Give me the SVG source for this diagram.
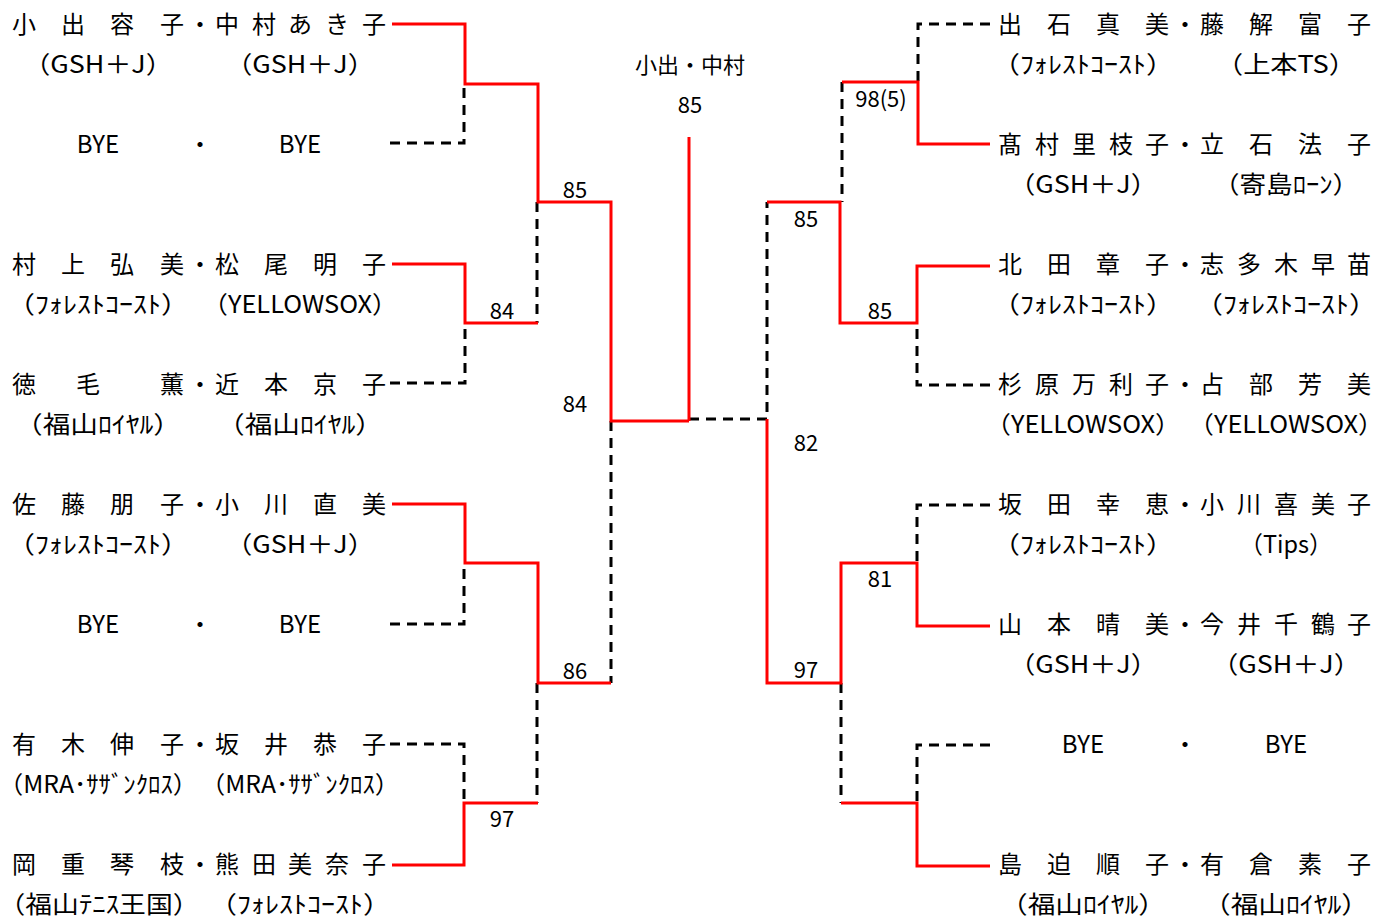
<svg xmlns="http://www.w3.org/2000/svg" width="1376" height="918" viewBox="0 0 1376 918">
<style>
.nm{font-family:"Noto Sans CJK JP","Noto Sans",sans-serif;font-size:24px;fill:#000;text-anchor:middle;dominant-baseline:central}
.sb{font-family:"Noto Sans CJK JP","Noto Sans",sans-serif;font-size:24px;fill:#000;text-anchor:middle;dominant-baseline:central}
.sc{font-family:"Noto Sans CJK JP","Noto Sans",sans-serif;font-size:22px;fill:#000;text-anchor:middle;dominant-baseline:central}
.win{fill:none;stroke:#ff0000;stroke-width:3}
.los{fill:none;stroke:#000;stroke-width:3;stroke-dasharray:10 7}
</style>
<rect width="1376" height="918" fill="#fff"/>
<g id="connectors">
<path class="los" d="M390 143 H464 V84"/>
<path class="los" d="M390 383 H465 V323"/>
<path class="los" d="M537 202 V323"/>
<path class="los" d="M390 624 H464 V563"/>
<path class="los" d="M390 744 H464 V803"/>
<path class="los" d="M537 683 V803"/>
<path class="los" d="M611 421 V683"/>
<path class="los" d="M689 419 H767 V202"/>
<path class="los" d="M990 24 H918 V82"/>
<path class="los" d="M842 82 V202"/>
<path class="los" d="M990 385 H917 V323"/>
<path class="los" d="M990 505 H917 V563"/>
<path class="los" d="M841 683 V803"/>
<path class="los" d="M990 745 H917 V803"/>
<path class="win" d="M392 24 H465 V84 H538 V202 H611 V421 H689"/>
<path class="win" d="M689 421 V137" stroke-width="4"/>
<path class="win" d="M392 264 H465 V323 H538"/>
<path class="win" d="M392 504 H465 V563 H538 V683 H611"/>
<path class="win" d="M392 865 H464 V803 H538"/>
<path class="win" d="M767 419 V683 H841 V563 H917 V626 H990"/>
<path class="win" d="M767 202 H840 V323 H917 V266 H990"/>
<path class="win" d="M842 82 H918 V144 H990"/>
<path class="win" d="M841 803 H917 V866 H990"/>
</g>
<g id="scores">
<text class="sc" x="690" y="63">小出・中村</text>
<text class="sc" x="690" y="103">85</text>
<text class="sc" x="575" y="188">85</text>
<text class="sc" x="502" y="309">84</text>
<text class="sc" x="575" y="402">84</text>
<text class="sc" x="575" y="669">86</text>
<text class="sc" x="502" y="817">97</text>
<text class="sc" x="881" y="97" font-size="20">98(5)</text>
<text class="sc" x="806" y="217">85</text>
<text class="sc" x="880" y="309">85</text>
<text class="sc" x="806" y="441">82</text>
<text class="sc" x="880" y="577">81</text>
<text class="sc" x="806" y="668">97</text>
</g>
<g id="L1">
<text class="nm" x="24 73 122 172 200 227 264 300 337 374" y="22">小出容子・中村あき子</text>
<text class="sb" x="98" y="62" textLength="149" lengthAdjust="spacingAndGlyphs">（GSH＋J）</text>
<text class="sb" x="300" y="62" textLength="149" lengthAdjust="spacingAndGlyphs">（GSH＋J）</text>
</g>
<g id="L2">
<text class="nm" x="98" y="142">BYE</text>
<text class="nm" x="200" y="142">・</text>
<text class="nm" x="300" y="142">BYE</text>
</g>
<g id="L3">
<text class="nm" x="24 73 122 172 200 227 276 325 374" y="262">村上弘美・松尾明子</text>
<text class="sb" x="98" y="302" textLength="182" lengthAdjust="spacingAndGlyphs">（ﾌｫﾚｽﾄｺｰｽﾄ）</text>
<text class="sb" x="300" y="302" textLength="195" lengthAdjust="spacingAndGlyphs">（YELLOWSOX）</text>
</g>
<g id="L4">
<text class="nm" x="24 88 172 200 227 276 325 374" y="382">徳毛薫・近本京子</text>
<text class="sb" x="98" y="422" textLength="166" lengthAdjust="spacingAndGlyphs">（福山ﾛｲﾔﾙ）</text>
<text class="sb" x="300" y="422" textLength="166" lengthAdjust="spacingAndGlyphs">（福山ﾛｲﾔﾙ）</text>
</g>
<g id="L5">
<text class="nm" x="24 73 122 172 200 227 276 325 374" y="502">佐藤朋子・小川直美</text>
<text class="sb" x="98" y="542" textLength="182" lengthAdjust="spacingAndGlyphs">（ﾌｫﾚｽﾄｺｰｽﾄ）</text>
<text class="sb" x="300" y="542" textLength="149" lengthAdjust="spacingAndGlyphs">（GSH＋J）</text>
</g>
<g id="L6">
<text class="nm" x="98" y="622">BYE</text>
<text class="nm" x="200" y="622">・</text>
<text class="nm" x="300" y="622">BYE</text>
</g>
<g id="L7">
<text class="nm" x="24 73 122 172 200 227 276 325 374" y="742">有木伸子・坂井恭子</text>
<text class="sb" x="98" y="782" textLength="199" lengthAdjust="spacingAndGlyphs">（MRA･ｻｻﾞﾝｸﾛｽ）</text>
<text class="sb" x="300" y="782" textLength="199" lengthAdjust="spacingAndGlyphs">（MRA･ｻｻﾞﾝｸﾛｽ）</text>
</g>
<g id="L8">
<text class="nm" x="24 73 122 172 200 227 264 300 337 374" y="862">岡重琴枝・熊田美奈子</text>
<text class="sb" x="99" y="902" textLength="201" lengthAdjust="spacingAndGlyphs">（福山ﾃﾆｽ王国）</text>
<text class="sb" x="300" y="902" textLength="182" lengthAdjust="spacingAndGlyphs">（ﾌｫﾚｽﾄｺｰｽﾄ）</text>
</g>
<g id="R1">
<text class="nm" x="1010 1059 1108 1157 1185 1212 1261 1310 1359" y="22">出石真美・藤解富子</text>
<text class="sb" x="1083" y="62" textLength="182" lengthAdjust="spacingAndGlyphs">（ﾌｫﾚｽﾄｺｰｽﾄ）</text>
<text class="sb" x="1286" y="62" textLength="140" lengthAdjust="spacingAndGlyphs">（上本TS）</text>
</g>
<g id="R2">
<text class="nm" x="1010 1047 1084 1121 1157 1185 1212 1261 1310 1359" y="142">髙村里枝子・立石法子</text>
<text class="sb" x="1083" y="182" textLength="149" lengthAdjust="spacingAndGlyphs">（GSH＋J）</text>
<text class="sb" x="1286" y="182" textLength="146" lengthAdjust="spacingAndGlyphs">（寄島ﾛｰﾝ）</text>
</g>
<g id="R3">
<text class="nm" x="1010 1059 1108 1157 1185 1212 1249 1286 1323 1359" y="262">北田章子・志多木早苗</text>
<text class="sb" x="1083" y="302" textLength="182" lengthAdjust="spacingAndGlyphs">（ﾌｫﾚｽﾄｺｰｽﾄ）</text>
<text class="sb" x="1286" y="302" textLength="182" lengthAdjust="spacingAndGlyphs">（ﾌｫﾚｽﾄｺｰｽﾄ）</text>
</g>
<g id="R4">
<text class="nm" x="1010 1047 1084 1121 1157 1185 1212 1261 1310 1359" y="382">杉原万利子・占部芳美</text>
<text class="sb" x="1083" y="422" textLength="195" lengthAdjust="spacingAndGlyphs">（YELLOWSOX）</text>
<text class="sb" x="1286" y="422" textLength="195" lengthAdjust="spacingAndGlyphs">（YELLOWSOX）</text>
</g>
<g id="R5">
<text class="nm" x="1010 1059 1108 1157 1185 1212 1249 1286 1323 1359" y="502">坂田幸恵・小川喜美子</text>
<text class="sb" x="1083" y="542" textLength="182" lengthAdjust="spacingAndGlyphs">（ﾌｫﾚｽﾄｺｰｽﾄ）</text>
<text class="sb" x="1286" y="542" textLength="93" lengthAdjust="spacingAndGlyphs">（Tips）</text>
</g>
<g id="R6">
<text class="nm" x="1010 1059 1108 1157 1185 1212 1249 1286 1323 1359" y="622">山本晴美・今井千鶴子</text>
<text class="sb" x="1083" y="662" textLength="149" lengthAdjust="spacingAndGlyphs">（GSH＋J）</text>
<text class="sb" x="1286" y="662" textLength="149" lengthAdjust="spacingAndGlyphs">（GSH＋J）</text>
</g>
<g id="R7">
<text class="nm" x="1083" y="742">BYE</text>
<text class="nm" x="1185" y="742">・</text>
<text class="nm" x="1286" y="742">BYE</text>
</g>
<g id="R8">
<text class="nm" x="1010 1059 1108 1157 1185 1212 1261 1310 1359" y="862">島迫順子・有倉素子</text>
<text class="sb" x="1083" y="902" textLength="166" lengthAdjust="spacingAndGlyphs">（福山ﾛｲﾔﾙ）</text>
<text class="sb" x="1286" y="902" textLength="166" lengthAdjust="spacingAndGlyphs">（福山ﾛｲﾔﾙ）</text>
</g>
</svg>
